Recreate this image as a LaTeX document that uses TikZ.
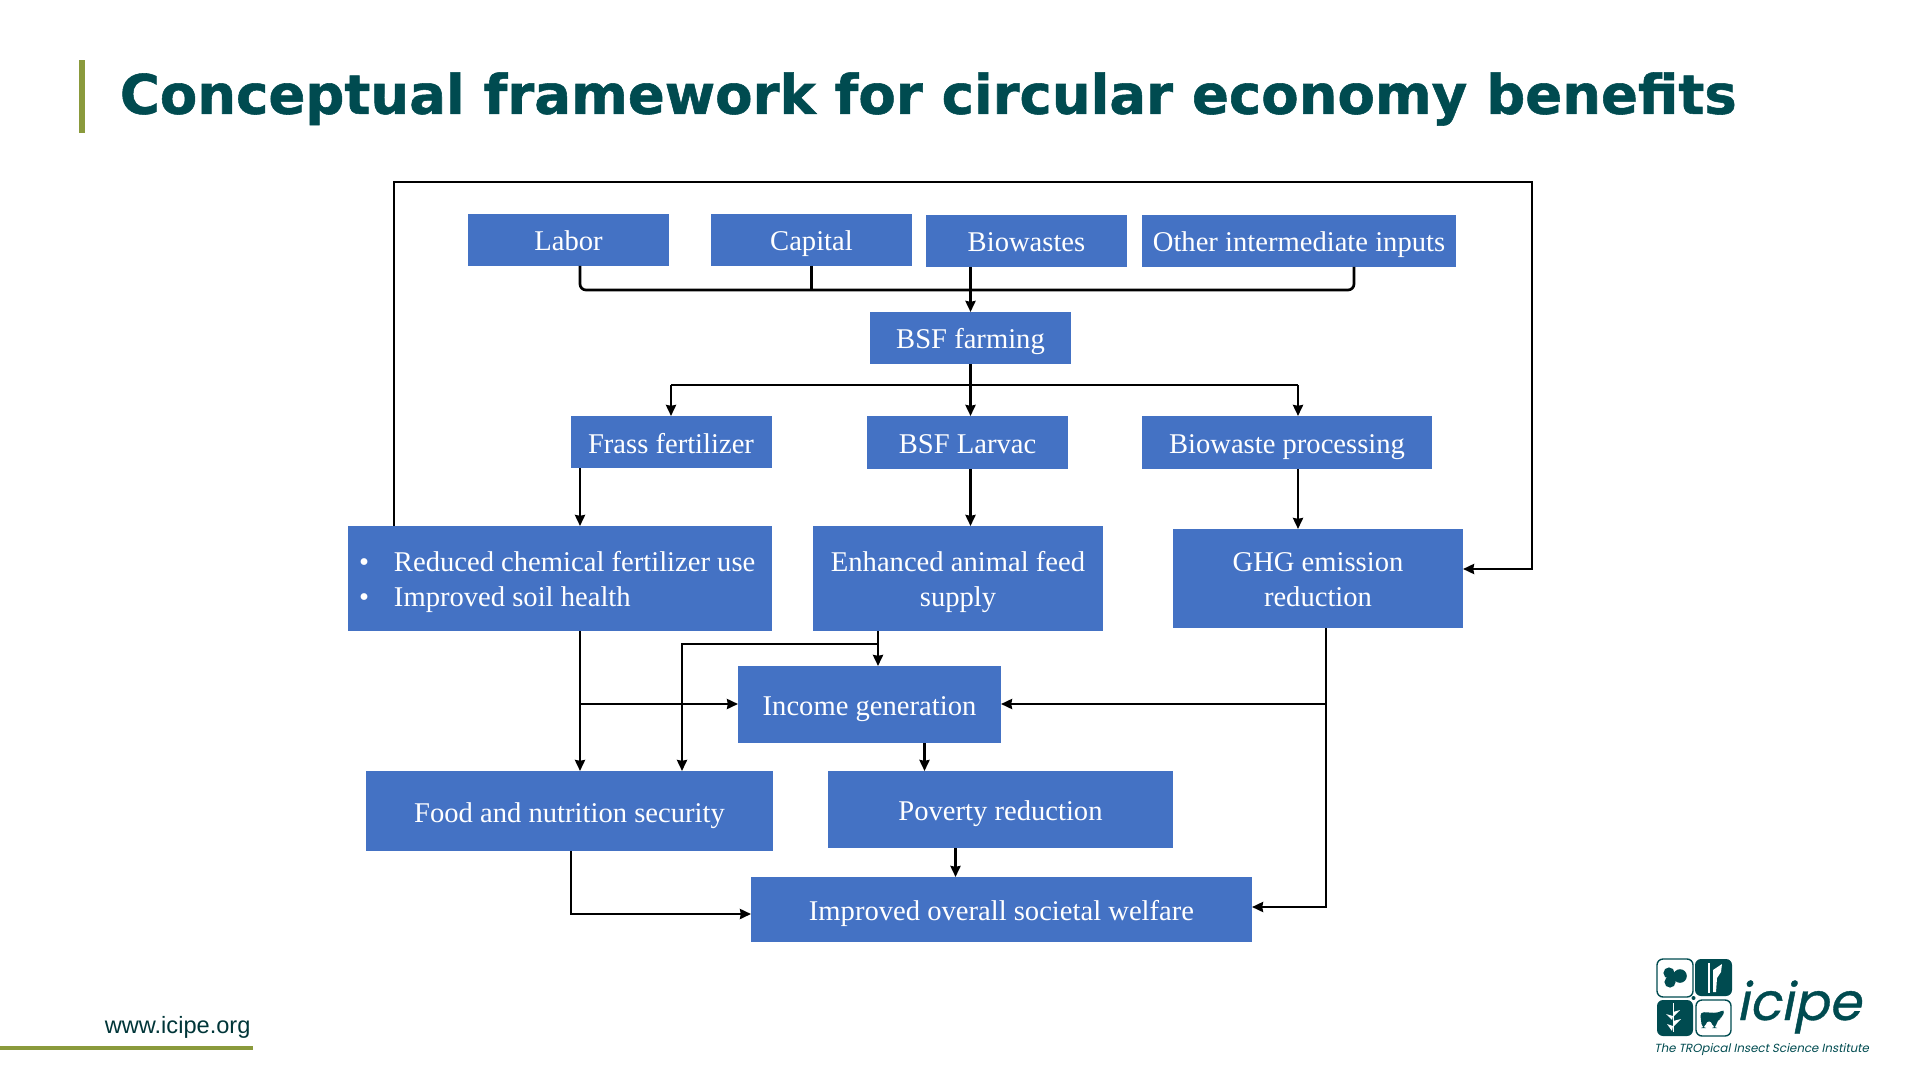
\documentclass[tikz,border=0pt]{standalone}
\usepackage{fontspec}
\setmainfont{Liberation Serif}
\newfontfamily\titlefont[BoldFeatures={FakeBold=1}]{DejaVu Sans}
\newfontfamily\footfont{Liberation Sans}
\newfontfamily\logofont[FakeSlant=0.2,FakeBold=0.7]{Poppins}
\newfontfamily\tagfont[FakeSlant=0.2]{Poppins}
\newcommand{\lift}[1]{\rule{0pt}{#1}}
\usetikzlibrary{arrows.meta,positioning}
\definecolor{slideteal}{HTML}{004B50}
\definecolor{slideolive}{HTML}{8A9A3C}
\definecolor{boxblue}{HTML}{4472C4}

\begin{document}
\begin{tikzpicture}[
            x = 0.5pt, y = -0.5pt, % one unit is one pixel of the slide
            > = {Stealth[length=5.5pt,width=5pt,inset=0.4pt]}, % arrow head style
            line width = 1.35pt,
            line join = miter
        ]

        \tikzstyle{block}=[
            fill = boxblue,
            text = white,
            inner sep = 0pt,
            outer sep = 0pt,
            align = center,
            minimum height = 26pt,
            minimum width = 100.5pt,
            text height = 11.5pt,
            text depth = 0.5pt,
            font = \fontsize{14.3}{17.5}\selectfont
        ]
        \tikzstyle{twolines}=[
            text height = {},
            text depth = {},
            minimum height = 52.5pt,
            minimum width = 145pt
        ]

        \useasboundingbox (0,0) rectangle (1920,1080);

        % slide frame
        \fill[slideolive] (79,60) rectangle (84.5,133);
        \fill[slideolive] (0,1045.5) rectangle (253,1049.5);
        \node[text = slideteal, font = \titlefont\bfseries\fontsize{27.25}{32}\selectfont, anchor = west, inner sep = 0pt] (title) at (118.5,99) {Conceptual framework for circular economy benefits};
        \node[text = slideteal!70!black, font = \footfont\fontsize{11.8}{14}\selectfont, anchor = west, inner sep = 0pt] (site) at (103.5,1027) {www.icipe.org};

        % inputs
        \node[block] (labor) at (568.5,240) {Labor};
        \node[block] (capital) [right = 21pt of labor] {Capital};
        \node[block] (biowastes) [right = 7pt of capital, yshift = -0.5pt] {Biowastes};
        \node[block, minimum width = 157pt] (other) [right = 7.5pt of biowastes] {Other intermediate inputs};
        \node[block] (farming) at (970.5,338) {BSF farming};

        % outputs of the farm
        \node[block] (frass) at (671,442) {Frass fertilizer};
        \node[block, minimum height = 26.5pt] (larvae) at (967.5,442.5) {BSF Larvac};
        \node[block, minimum height = 26.5pt, minimum width = 145pt] (processing) at (1287,442.5) {Biowaste processing};

        % direct benefits
        \node[block, twolines, text width = 206pt, inner xsep = 3pt, align = flush left] (reduced) at (560,578.5) {\lift{14pt}\hspace*{2.5pt}\makebox[17.5pt][l]{•}Reduced chemical fertilizer use\\\hspace*{2.5pt}\makebox[17.5pt][l]{•}Improved soil health};
        \node[block, twolines] (feed) at (958,578.5) {\lift{14pt}Enhanced animal feed\\supply};
        \node[block, twolines, minimum height = 49.5pt] (ghg) at (1318,578.5) {\lift{11pt}GHG emission\\reduction};

        % welfare
        \node[block, minimum width = 131.5pt, minimum height = 38.5pt] (income) at (869.5,704.5) {Income generation};
        \node[block, minimum width = 203.5pt, minimum height = 40pt] (food) at (569.5,811) {Food and nutrition security};
        \node[block, minimum width = 172.5pt, minimum height = 38.5pt] (poverty) at (1000.5,809.5) {Poverty reduction};
        \node[block, minimum width = 250.5pt, minimum height = 32.5pt] (welfare) at (1001.5,909.5) {Improved overall societal welfare};

        % junctions
        \coordinate (busL) at (580,290);
        \coordinate (busC) at (811.5,290);
        \coordinate (busM) at (970.5,290);
        \coordinate (busR) at (1354,290);
        \coordinate (split) at (970.5,385);
        \coordinate (splitL) at (671,385);
        \coordinate (splitR) at (1298,385);
        \coordinate (loopA) at (394,182);
        \coordinate (loopB) at (1532,182);
        \coordinate (loopC) at (1532,569);
        \coordinate (feedJ) at (878,644);
        \coordinate (feedL) at (682,644);
        \coordinate (reducedJ) at (580,704);
        \coordinate (ghgJ) at (1326,704);
        \coordinate (ghgB) at (1326,907);
        \coordinate (foodB) at (571,914);

        \draw[rounded corners = 3pt] (labor.south -| busL) -- (busL) -- (busR) -- (other.south -| busR);
        \draw (capital.south -| busC) -- (busC);
        \draw[->] (biowastes.south -| busM) -- (farming.north -| busM);

        \draw (farming.south -| split) -- (split);
        \draw[->] (split) -- (larvae.north -| split);
        \draw[->] (splitL) -- (frass.north -| splitL);
        \draw[->] (splitR) -- (processing.north -| splitR);
        \draw (splitL) -- (splitR);

        \draw[->] (frass.south -| busL) -- (reduced.north -| busL);
        \draw[->] (larvae.south -| split) -- (feed.north -| split);
        \draw[->] (processing.south -| splitR) -- (ghg.north -| splitR);

        \draw[->] (reduced.north -| loopA) -- (loopA) -- (loopB) -- (loopC) -- (ghg.east |- loopC);

        \draw[->] (reduced.south -| reducedJ) -- (food.north -| reducedJ);
        \draw[->] (reducedJ) -- (income.west |- reducedJ);
        \draw[->] (feed.south -| feedJ) -- (income.north -| feedJ);
        \draw[->] (feedJ) -- (feedL) -- (food.north -| feedL);
        \draw[->] (ghg.south -| ghgB) -- (ghgB) -- (welfare.east |- ghgB);
        \draw[->] (ghgJ) -- (income.east |- ghgJ);
        \draw[->] ([xshift = 27.5pt]income.south) -- ([xshift = 27.5pt]income.south |- poverty.north);
        \draw[->] ([xshift = -22.5pt]poverty.south) -- ([xshift = -22.5pt]poverty.south |- welfare.north);
        \draw[->] (food.south -| foodB) -- (foodB) -- (welfare.west |- foodB);

        % logo
        \begin{scope}[line width = 0.7pt, slideteal]
            \draw[rounded corners = 3pt] (1657,959) rectangle (1693,997);
            \fill[rounded corners = 3pt] (1695,959) rectangle (1732,996);
            \fill[rounded corners = 3pt] (1657,1000) rectangle (1693,1036);
            \draw[rounded corners = 3pt] (1696,1000) rectangle (1731,1036);
            \fill (1693.5,998) circle (1pt);
            % leaf
            \fill (1669,973) circle (2.8pt);
            \fill (1680,976) circle (3.4pt);
            \fill (1670,982) circle (2.8pt);
            \fill (1674,977) circle (2.4pt);
            % insect
            \fill[white] (1708,963) rectangle (1709.5,993);
            \fill[white] (1713,970) -- (1722,964) -- (1721,972) -- (1717,978) -- (1716,992) -- (1713,992) -- cycle;
            % plant
            \fill[white] (1672.5,1003) rectangle (1674,1032);
            \fill[white] (1673,1012) -- (1680,1010) -- (1674,1016) -- cycle;
            \fill[white] (1673,1016) -- (1666,1014) -- (1672,1020) -- cycle;
            \fill[white] (1673,1021) -- (1681,1019) -- (1674,1026) -- cycle;
            \fill[white] (1673,1026) -- (1667,1024) -- (1672,1031) -- cycle;
            % cow
            \fill[rounded corners = 2pt] (1700,1012) -- (1718,1013) -- (1725,1009) -- (1722,1018) -- (1717,1020) -- (1716,1028) -- (1713,1028) -- (1712,1021) -- (1706,1021) -- (1705,1028) -- (1702,1028) -- cycle;
        \end{scope}
        \node[text = slideteal, font = \logofont\fontsize{26}{30}\selectfont, anchor = base west, inner sep = 0pt] (logoname) at (1735,1020) {icipe};
        \node[text = slideteal, font = \tagfont\fontsize{5.9}{7}\selectfont, anchor = west, inner sep = 0pt] (logotag) at (1653,1050) {The TROpical Insect Science Institute};

    \end{tikzpicture}
\end{document}
